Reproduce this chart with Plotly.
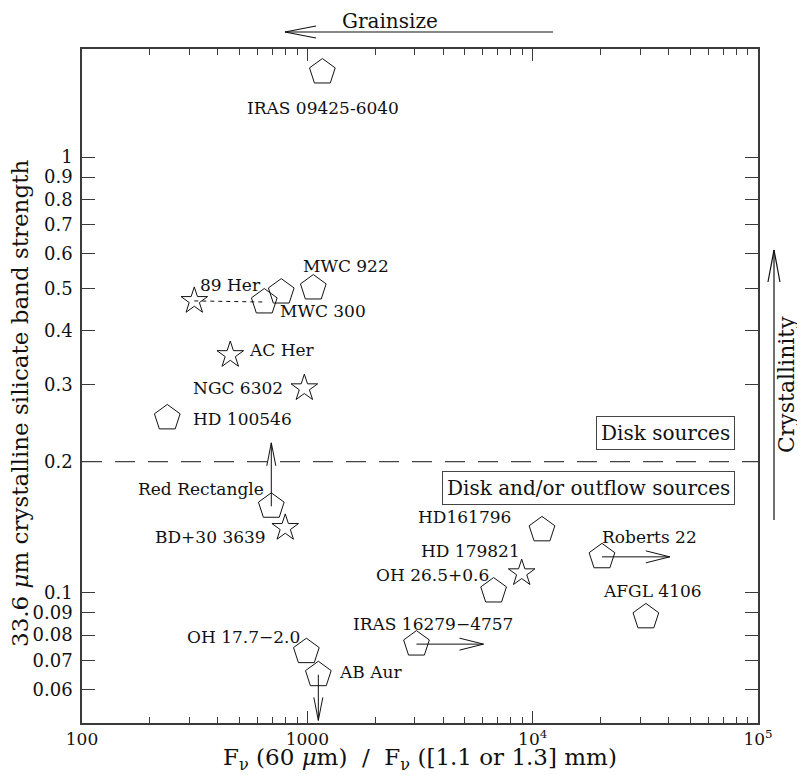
import numpy as np
import plotly.graph_objects as go

# ---------------- data ----------------
names = ["IRAS 09425-6040", "MWC 922", "89 Her", "89 Her (disk)", "MWC 300",
         "AC Her", "NGC 6302", "HD 100546", "Red Rectangle", "BD+30 3639",
         "OH 17.7-2.0", "AB Aur", "IRAS 16279-4757", "OH 26.5+0.6",
         "HD 179821", "HD161796", "Roberts 22", "AFGL 4106"]
labels = ["IRAS 09425-6040", "MWC 922", "89 Her", "", "MWC 300",
          "AC Her", "NGC 6302", "HD 100546", "Red Rectangle", "BD+30 3639",
          "OH 17.7−2.0", "AB Aur", "IRAS 16279−4757", "OH 26.5+0.6",
          "HD 179821", "HD161796", "Roberts 22", "AFGL 4106"]
flux_ratio = [1166, 1063, 315, 644, 766, 455, 970, 239, 692, 798,
              990, 1119, 3050, 6710, 8940, 11000, 20300, 31800]
band_strength = [1.567, 0.5006, 0.4677, 0.465, 0.490, 0.3515, 0.295, 0.252,
                 0.158, 0.141, 0.0733, 0.0649, 0.0763, 0.101, 0.111, 0.1395,
                 0.121, 0.0881]
kind = ["pent", "pent", "star", "pent", "pent", "star", "star", "pent", "pent",
        "star", "pent", "pent", "pent", "pent", "star", "pent", "pent", "pent"]

# limits (arrows): source, direction, end value
arrow_src = ["Red Rectangle", "AB Aur", "IRAS 16279-4757", "Roberts 22"]
arrow_dir = ["y", "y", "x", "x"]
arrow_end = [0.221, 0.051, 6050, 40600]

# linked pair (dotted line)
link_pair = ("89 Her", "89 Her (disk)")

threshold = 0.2

x_ticks = [100, 1000, 1e4, 1e5]
x_ticktext = ["100", "1000", "10<sup>4</sup>", "10<sup>5</sup>"]
x_minor = [m * 10 ** d for d in (2, 3, 4) for m in range(2, 10)]
y_ticks = [0.06, 0.07, 0.08, 0.09, 0.1, 0.2, 0.3, 0.4, 0.5, 0.6, 0.7, 0.8, 0.9, 1]
y_ticktext = ["0.06", "0.07", "0.08", "0.09", "0.1", "0.2", "0.3", "0.4",
              "0.5", "0.6", "0.7", "0.8", "0.9", "1"]

x_range = [2.0, 5.0]
y_range = [np.log10(0.0503), np.log10(1.77)]

# ---------------- layout constants ----------------
OFF = 8  # page body margin
W, H = 805 - OFF, 775 - OFF
# plot frame in screenshot pixels: x 82..758, y 49..723
ML, MT = 82 - OFF, 49 - OFF
MR, MB = W - (758 - OFF), H - (723 - OFF)
PW, PH = W - ML - MR, H - MT - MB
px_per_dec_x = PW / (x_range[1] - x_range[0])
px_per_dec_y = PH / (y_range[1] - y_range[0])

SERIF = "DejaVu Serif"
INK = "#111111"
FRAME = "#3a3a3a"

# label offsets in pixels: (dx, dy_up, xanchor)
label_pos = {
    "IRAS 09425-6040": (1, -36, "center"),
    "MWC 922": (33, 22, "center"),
    "89 Her": (36, 16, "center"),
    "MWC 300": (42, -19, "center"),
    "AC Her": (17, 5, "left"),
    "NGC 6302": (-19, 0, "right"),
    "HD 100546": (24, -1, "left"),
    "Red Rectangle": (-5, 17, "right"),
    "BD+30 3639": (-17, -9, "right"),
    "OH 17.7-2.0": (-4, 15, "right"),
    "AB Aur": (19, 3, "left"),
    "IRAS 16279-4757": (17, 20, "center"),
    "OH 26.5+0.6": (-3, 16, "right"),
    "HD 179821": (0, 22, "right"),
    "HD161796": (-29, 13, "right"),
    "Roberts 22": (-2, 20, "left"),
    "AFGL 4106": (-45, 26, "left"),
}

def px2paper(x, y):
    """screenshot pixel -> paper coordinates"""
    return (x - OFF - ML) / PW, (H - MB - (y - OFF)) / PH

fig = go.Figure()

# threshold dashed line
fig.add_trace(go.Scatter(x=[10 ** x_range[0], 10 ** x_range[1]], y=[threshold, threshold],
                         mode="lines", line=dict(color="#444", width=1.3, dash="20px,13px"),
                         hoverinfo="skip", showlegend=False))

# dotted link
i1, i2 = names.index(link_pair[0]), names.index(link_pair[1])
fig.add_trace(go.Scatter(x=[flux_ratio[i1], flux_ratio[i2]], y=[band_strength[i1], band_strength[i2]],
                         mode="lines", line=dict(color=INK, width=1, dash="4px,4px"),
                         hoverinfo="skip", showlegend=False))

# arrows (shaft + open V head), computed in log space from the data
for src, d, end in zip(arrow_src, arrow_dir, arrow_end):
    i = names.index(src)
    lx0, ly0 = np.log10(flux_ratio[i]), np.log10(band_strength[i])
    if d == "x":
        lx1, ly1 = np.log10(end), ly0
        L = 24 / px_per_dec_x
        Wd = 6 / px_per_dec_y
        s = np.sign(lx1 - lx0)
        hx = [lx1 - s * L, lx1, lx1 - s * L]
        hy = [ly1 + Wd, ly1, ly1 - Wd]
    else:
        lx1, ly1 = lx0, np.log10(end)
        L = 23 / px_per_dec_y
        Wd = 4.5 / px_per_dec_x
        s = np.sign(ly1 - ly0)
        hx = [lx1 - Wd, lx1, lx1 + Wd]
        hy = [ly1 - s * L, ly1, ly1 - s * L]
    fig.add_trace(go.Scatter(x=10 ** np.array([lx0, lx1]), y=10 ** np.array([ly0, ly1]),
                             mode="lines", line=dict(color=INK, width=1),
                             hoverinfo="skip", showlegend=False))
    fig.add_trace(go.Scatter(x=10 ** np.array(hx), y=10 ** np.array(hy),
                             mode="lines", line=dict(color=INK, width=1),
                             hoverinfo="skip", showlegend=False))

# markers
for k, sym, size in (("pent", "pentagon-open", 27), ("star", "star-open", 20)):
    xs = [x for x, kk in zip(flux_ratio, kind) if kk == k]
    ys = [y for y, kk in zip(band_strength, kind) if kk == k]
    tx = [n for n, kk in zip(names, kind) if kk == k]
    fig.add_trace(go.Scatter(x=xs, y=ys, mode="markers", text=tx,
                             marker=dict(symbol=sym, size=size, color=INK,
                                         line=dict(width=1, color=INK)),
                             showlegend=False))

# labels
annotations = []
for n, lab, x, y in zip(names, labels, flux_ratio, band_strength):
    if not lab:
        continue
    dx, dy, xa = label_pos[n]
    annotations.append(dict(x=np.log10(x), y=np.log10(y), xref="x", yref="y",
                            text=lab, showarrow=False, xanchor=xa, yanchor="middle",
                            xshift=dx, yshift=dy,
                            font=dict(family=SERIF, size=17, color=INK)))

# region boxes anchored to the threshold
bx = px2paper(735, 0)[0]
annotations.append(dict(x=bx, xref="paper", y=np.log10(threshold), yref="y",
                        text="Disk sources", showarrow=False, xanchor="right",
                        yanchor="bottom", yshift=12, bordercolor="#444", borderwidth=1,
                        borderpad=4, font=dict(family=SERIF, size=20, color=INK)))
annotations.append(dict(x=bx, xref="paper", y=np.log10(threshold), yref="y",
                        text="Disk and/or outflow sources", showarrow=False, xanchor="right",
                        yanchor="top", yshift=-9, bordercolor="#444", borderwidth=1,
                        borderpad=4, font=dict(family=SERIF, size=20, color=INK)))

# axis titles
annotations.append(dict(x=px2paper(420, 0)[0], y=-MB / PH, xref="paper", yref="paper",
                        text="F<sub>ν</sub> (60 <i>μ</i>m)  /  F<sub>ν</sub> ([1.1 or 1.3] mm)",
                        showarrow=False, xanchor="center", yanchor="bottom", borderpad=0,
                        font=dict(family=SERIF, size=23, color=INK)))
gx, gy = px2paper(20, 404)
annotations.append(dict(x=gx, y=gy, xref="paper", yref="paper",
                        text="33.6 <i>μ</i>m crystalline silicate band strength",
                        showarrow=False, textangle=-90, xanchor="center", yanchor="middle",
                        borderpad=0, font=dict(family=SERIF, size=23, color=INK)))

# outer trend labels
annotations.append(dict(x=px2paper(390, 0)[0], y=1 + MT / PH, xref="paper", yref="paper",
                        text="Grainsize", showarrow=False, xanchor="center", yanchor="top",
                        borderpad=0, font=dict(family=SERIF, size=20, color=INK)))
gx, gy = px2paper(786, 385)
annotations.append(dict(x=gx, y=gy, xref="paper", yref="paper",
                        text="Crystallinity", showarrow=False, textangle=-90,
                        xanchor="center", yanchor="middle", borderpad=0,
                        font=dict(family=SERIF, size=22, color=INK)))

# trend arrows (paper coords)
shapes = []
def seg(p, q):
    (x0, y0), (x1, y1) = px2paper(*p), px2paper(*q)
    shapes.append(dict(type="line", xref="paper", yref="paper", x0=x0, y0=y0, x1=x1, y1=y1,
                       line=dict(color=INK, width=1.2)))

seg((553, 32), (285, 32))
seg((285, 32), (316, 26))
seg((285, 32), (316, 38))
seg((774, 520), (774, 250))
seg((774, 250), (768, 282))
seg((774, 250), (780, 282))

fig.update_layout(
    width=W, height=H, margin=dict(l=ML, r=MR, t=MT, b=MB, autoexpand=False),
    plot_bgcolor="white", paper_bgcolor="white",
    annotations=annotations, shapes=shapes, showlegend=False,
    xaxis=dict(type="log", range=x_range, tickvals=x_ticks, ticktext=x_ticktext,
               ticks="inside", ticklen=12, tickwidth=1.2, tickcolor=FRAME,
               showline=True, linecolor=FRAME, linewidth=1.6, mirror="ticks",
               showgrid=False, zeroline=False, automargin=False,
               minor=dict(tickvals=x_minor, ticks="inside", ticklen=6, tickwidth=1.2,
                          tickcolor=FRAME, showgrid=False),
               tickfont=dict(family=SERIF, size=17, color=INK)),
    yaxis=dict(type="log", range=y_range, tickvals=y_ticks, ticktext=y_ticktext,
               ticks="inside", ticklen=13, tickwidth=1.2, tickcolor=FRAME,
               showline=True, linecolor=FRAME, linewidth=1.6, mirror="ticks",
               showgrid=False, zeroline=False, ticklabelstandoff=4, automargin=False,
               tickfont=dict(family=SERIF, size=18, color=INK)),
)

fig.write_html("out.html")
